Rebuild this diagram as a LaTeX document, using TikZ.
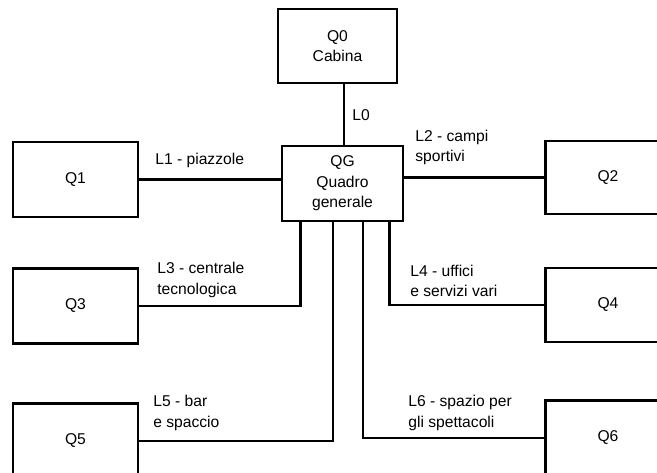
\documentclass[tikz,border=0pt]{standalone}
\usepackage{fontspec}
\setsansfont{Liberation Sans}
\usetikzlibrary{calc}
\tikzset{
  qbox/.style={
    rectangle, draw=black, line width=1.6pt,
    minimum width=2.5cm, minimum height=1.5cm,
    align=center, fill=white,
    font=\fontsize{8.9}{11.6}\selectfont\sffamily
  },
  feed/.style = {line width=1.4pt},
  lbl/.style  = {font=\fontsize{8.9}{11.6}\selectfont\sffamily, inner sep=0pt, anchor=west, align=left},
}
\begin{document}
\begin{tikzpicture}

\clip (0,0) rectangle (13.14,-9.44);

%% ── Top: cabina and quadro generale ─────────────────────────────────────────
\node[qbox, minimum width=2.38cm, minimum height=1.48cm] (Q0) at (6.75, -0.92) {Q0\\Cabina};
\node[qbox, minimum width=2.42cm] (QG) at (6.85, -3.67) {QG\\Quadro\\generale};

%% ── Left column: Q1 | Q3 | Q5 ───────────────────────────────────────────────
\node[qbox] (Q1) at (1.51, -3.59) {Q1};
\node[qbox] (Q3) at (1.51, -6.12) {Q3};
\node[qbox] (Q5) at (1.51, -8.82) {Q5};

%% ── Right column: Q2 | Q4 | Q6 (cut by the right edge) ─────────────────────
\node[qbox, minimum height=1.46cm] (Q2) at (12.16, -3.55) {Q2};
\node[qbox, minimum height=1.48cm] (Q4) at (12.16, -6.10) {Q4};
\node[qbox] (Q6) at (12.16, -8.76) {Q6};

%% ── Q0 -- QG : L0 ───────────────────────────────────────────────────────────
\draw[feed] ([xshift=0.3mm]QG.north) -- ([xshift=0.3mm]QG.north |- Q0.south);
\node[lbl] (lab0) at (7.04, -2.30) {L0};

%% ── Q1 -- QG : L1 ───────────────────────────────────────────────────────────
\draw[feed] (Q1.east) -- (Q1.east -| QG.west);
\node[lbl] (lab1) at (3.10, -3.20) {L1 - piazzole};

%% ── Q2 -- QG : L2 ───────────────────────────────────────────────────────────
\draw[feed] (Q2.west) -- (Q2.west -| QG.east);
\node[lbl] (lab2) at (8.30, -2.95) {L2 - campi\\sportivi};

%% ── Q3 -- QG : L3 (left, then up) ───────────────────────────────────────────
\draw[feed] (Q3.east) -| ([xshift=4mm]QG.south west);
\node[lbl] (lab3) at (3.14, -5.60) {L3 - centrale\\tecnologica};

%% ── Q4 -- QG : L4 (right, then up) ──────────────────────────────────────────
\draw[feed] (Q4.west) -| ([xshift=-3mm]QG.south east);
\node[lbl] (lab4) at (8.20, -5.62) {L4 - uffici\\e servizi vari};

%% ── Q5 -- QG : L5 ───────────────────────────────────────────────────────────
\draw[feed] (Q5.east) -| ([xshift=-1.9mm]QG.south);
\node[lbl] (lab5) at (3.06, -8.26) {L5 - bar\\e spaccio};

%% ── Q6 -- QG : L6 ───────────────────────────────────────────────────────────
\draw[feed] (Q6.west) -| ([xshift=4.1mm]QG.south);
\node[lbl] (lab6) at (8.16, -8.26) {L6 - spazio per\\gli spettacoli};

\end{tikzpicture}
\end{document}
